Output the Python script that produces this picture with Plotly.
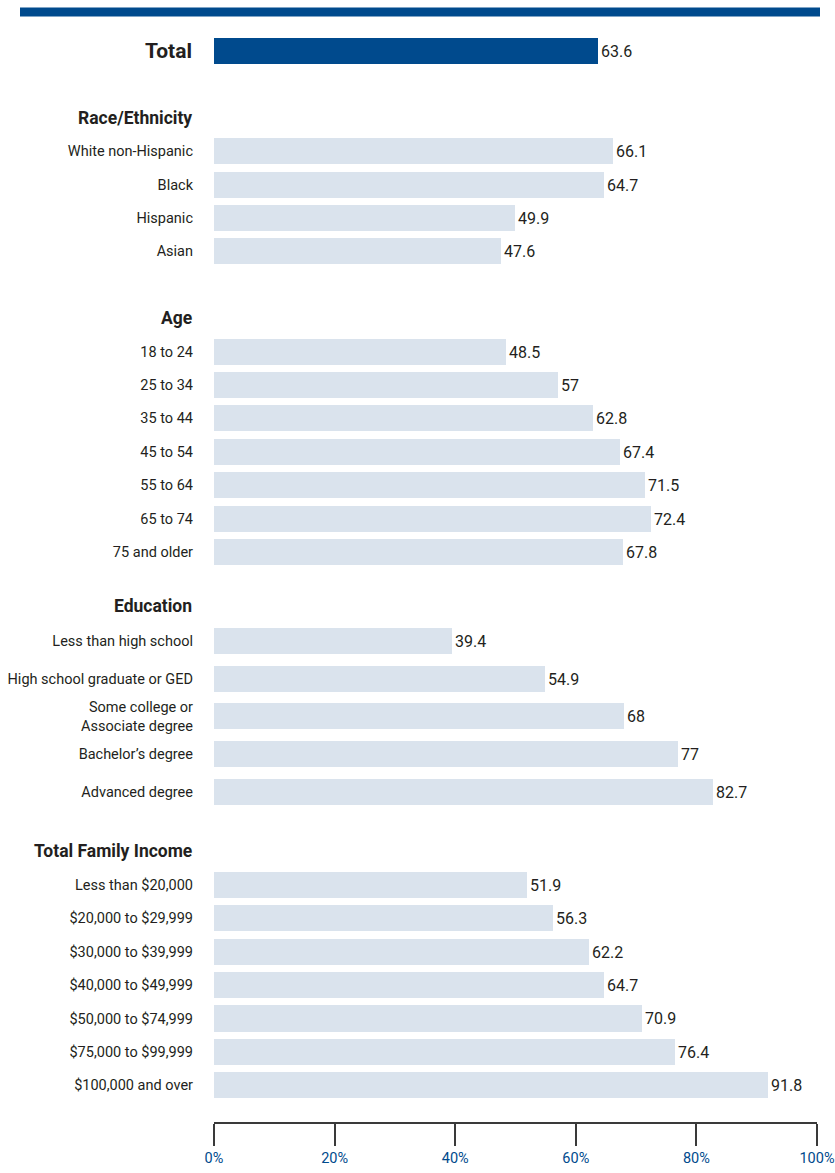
import plotly.graph_objects as go

# ---------------- data ----------------
total_label = "Total"
total_value = 63.6

groups = ["Race/Ethnicity", "Age", "Education", "Total Family Income"]

race_labels = ["White non-Hispanic", "Black", "Hispanic", "Asian"]
race_values = [66.1, 64.7, 49.9, 47.6]

age_labels = ["18 to 24", "25 to 34", "35 to 44", "45 to 54", "55 to 64", "65 to 74", "75 and older"]
age_values = [48.5, 57, 62.8, 67.4, 71.5, 72.4, 67.8]

edu_labels = ["Less than high school", "High school graduate or GED",
              "Some college or<br>Associate degree", "Bachelor\u2019s degree", "Advanced degree"]
edu_values = [39.4, 54.9, 68, 77, 82.7]

inc_labels = ["Less than $20,000", "$20,000 to $29,999", "$30,000 to $39,999", "$40,000 to $49,999",
              "$50,000 to $74,999", "$75,000 to $99,999", "$100,000 and over"]
inc_values = [51.9, 56.3, 62.2, 64.7, 70.9, 76.4, 91.8]

x_ticks = [0, 20, 40, 60, 80, 100]
x_tick_labels = ["0%", "20%", "40%", "60%", "80%", "100%"]

# ---------------- layout of rows (slot units) ----------------
section_data = [(race_labels, race_values), (age_labels, age_values),
                (edu_labels, edu_values), (inc_labels, inc_values)]
header_slots = [2.0, 8.0, 16.62, 23.95]
first_item_offset = [1.0, 1.0, 1.04, 1.02]
item_steps = [1.0, 1.0, 1.13, 1.0]

ys, xs, labels = [], [], []
for (labs, vals), hs, off, st in zip(section_data, header_slots, first_item_offset, item_steps):
    for i, (l, v) in enumerate(zip(labs, vals)):
        ys.append(hs + off + i * st)
        xs.append(v)
        labels.append(l)

DARK = "#004a8d"
LIGHT = "#dae3ed"
TEXT = "#231f20"
FONT = "Roboto, sans-serif"

fig = go.Figure()

fig.add_trace(go.Bar(
    y=[0], x=[total_value], orientation="h", width=0.78,
    marker=dict(color=DARK, line=dict(width=0)),
    text=[f"{total_value:g}"], textposition="outside",
    textfont=dict(size=16, color=TEXT, family=FONT),
    cliponaxis=False, hoverinfo="skip",
))

fig.add_trace(go.Bar(
    y=ys, x=xs, orientation="h", width=0.78,
    marker=dict(color=LIGHT, line=dict(width=0)),
    text=[f"{v:g}" for v in xs], textposition="outside",
    textfont=dict(size=16, color=TEXT, family=FONT),
    cliponaxis=False, hoverinfo="skip",
))

annotations = [dict(
    x=0, xref="paper", y=0, yref="y", xanchor="right", yanchor="middle",
    xshift=-20, text=f"<b>{total_label}</b>", showarrow=False,
    font=dict(size=21, color=TEXT, family=FONT),
)]
for g, hs in zip(groups, header_slots):
    annotations.append(dict(
        x=0, xref="paper", y=hs, yref="y", xanchor="right", yanchor="middle",
        xshift=-20, text=f"<b>{g}</b>", showarrow=False,
        font=dict(size=17.5, color=TEXT, family=FONT),
    ))

# top rule
shapes = [dict(type="line", xref="paper", yref="paper",
               x0=-194 / 603, x1=606 / 603, y0=1.0073, y1=1.0073,
               line=dict(color=DARK, width=9))]

fig.update_layout(
    width=835, height=1173,
    margin=dict(l=214, r=18, t=20, b=51),
    paper_bgcolor="white", plot_bgcolor="white",
    showlegend=False, bargap=0,
    font=dict(family=FONT, color=TEXT, size=15),
    annotations=annotations, shapes=shapes,
    xaxis=dict(range=[0, 100], tickvals=x_ticks, ticktext=x_tick_labels,
               automargin=False, ticklabeloverflow="allow",
               showgrid=False, zeroline=False, showline=True,
               linecolor="#3a3a3a", linewidth=2, ticks="outside",
               ticklen=22, tickwidth=2, tickcolor="#3a3a3a",
               tickfont=dict(size=14.5, color=DARK, family=FONT),
               fixedrange=True),
    yaxis=dict(range=[32.07, -0.93], tickvals=ys, ticktext=labels,
               automargin=False,
               showgrid=False, zeroline=False, showline=False, ticks="",
               ticklabelstandoff=20,
               tickfont=dict(size=14.5, color=TEXT, family=FONT),
               fixedrange=True),
)

fig.write_html(
    "out.html",
    config={"displayModeBar": False},
    post_script="document.body.style.margin='0';document.body.style.overflow='hidden';",
)
